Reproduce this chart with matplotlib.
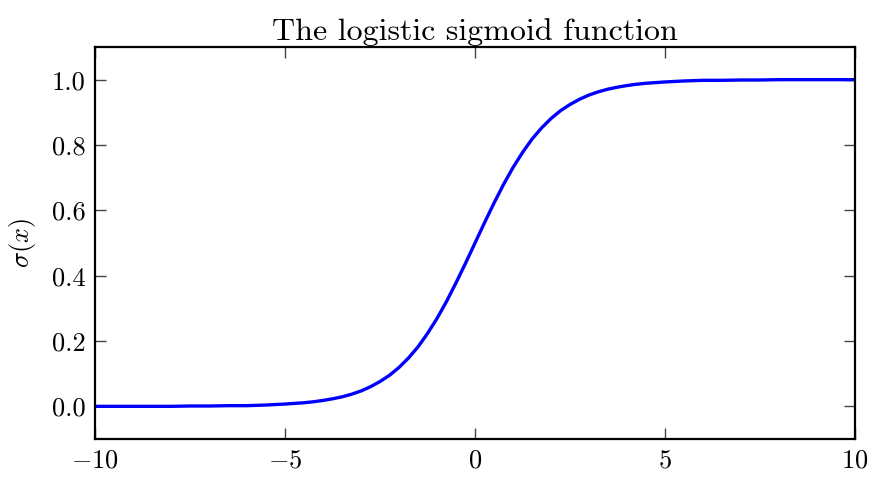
import matplotlib
matplotlib.use("Agg")
import matplotlib.pyplot as plt

plt.rcParams['font.family'] = 'serif'
plt.rcParams['font.serif'] = ['cmr10']
plt.rcParams['mathtext.fontset'] = 'cm'
plt.rcParams['axes.formatter.use_mathtext'] = True

# values (denser around the middle where it bends)
x_vals = [-10, -9.5, -9, -8.5, -8, -7.5, -7, -6.5, -6, -5.5, -5,
          -4.75, -4.5, -4.25, -4, -3.75, -3.5, -3.25, -3, -2.75, -2.5, -2.25, -2,
          -1.75, -1.5, -1.25, -1, -0.75, -0.5, -0.25, 0, 0.25, 0.5, 0.75, 1,
          1.25, 1.5, 1.75, 2, 2.25, 2.5, 2.75, 3, 3.25, 3.5, 3.75, 4, 4.25, 4.5,
          4.75, 5, 5.5, 6, 6.5, 7, 7.5, 8, 8.5, 9, 9.5, 10]
y_vals = [0.000, 0.000, 0.000, 0.000, 0.000, 0.001, 0.001, 0.002, 0.002, 0.004, 0.007,
          0.009, 0.011, 0.014, 0.018, 0.023, 0.029, 0.037, 0.047, 0.060, 0.076, 0.095, 0.119,
          0.148, 0.182, 0.223, 0.269, 0.321, 0.378, 0.438, 0.500, 0.562, 0.622, 0.679, 0.731,
          0.777, 0.818, 0.852, 0.881, 0.905, 0.924, 0.940, 0.953, 0.963, 0.971, 0.977, 0.982,
          0.986, 0.989, 0.991, 0.993, 0.996, 0.998, 0.998, 0.999, 0.999, 1.000, 1.000,
          1.000, 1.000, 1.000]
x_ticks = [-10, -5, 0, 5, 10]
x_labels = ['$-10$', '$-5$', '$0$', '$5$', '$10$']
y_ticks = [0.0, 0.2, 0.4, 0.6, 0.8, 1.0]
y_labels = ['0.0', '0.2', '0.4', '0.6', '0.8', '1.0']

fig = plt.figure(figsize=(8.77, 4.82), dpi=100)
ax = fig.add_axes([95/877, 1 - 439/482, 760/877, 392/482])

ax.plot(x_vals, y_vals, color='b', lw=2.4)

ax.set_xlim(-10, 10)
ax.set_ylim(-0.1, 1.1)
ax.set_xticks(x_ticks)
ax.set_xticklabels(x_labels)
ax.set_yticks(y_ticks)
ax.set_yticklabels(y_labels)
ax.tick_params(direction='in', length=8, width=1, top=True, right=True,
               labelsize=19, pad=7, color='#444444')
for s in ax.spines.values():
    s.set_linewidth(1.6)

ax.set_ylabel(r'$\sigma(x)$', fontsize=19, labelpad=10)
ax.set_title('The logistic sigmoid function', fontsize=23, pad=5)

fig.savefig('out.png', dpi=100)
